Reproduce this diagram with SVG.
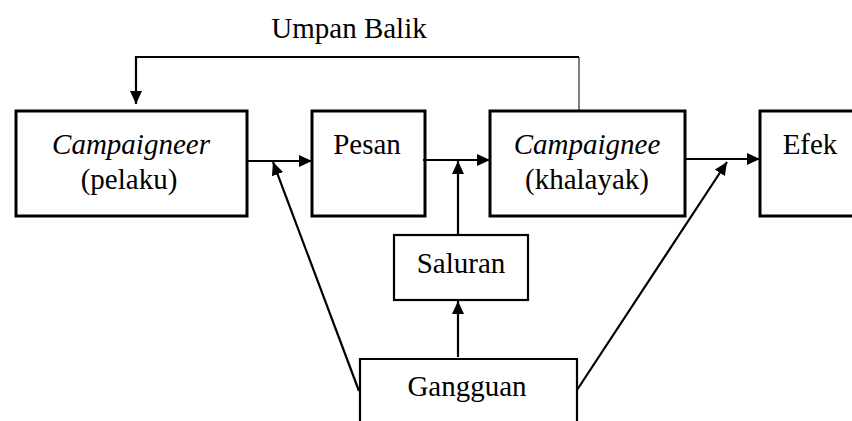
<svg xmlns="http://www.w3.org/2000/svg" width="852" height="421" viewBox="0 0 852 421">
<defs>
<marker id="ah" markerUnits="userSpaceOnUse" markerWidth="13" markerHeight="12" refX="13" refY="6" orient="auto">
<path d="M0,0 L13,6 L0,12 z" fill="#000"/>
</marker>
<style>
.box{fill:#fff;stroke:#000;stroke-width:3}
.box2{fill:#fff;stroke:#000;stroke-width:2.2}
.t{font-family:"Liberation Serif","Times New Roman",serif;font-size:29px;fill:#000;text-anchor:middle}
.i{font-style:italic}
.c{fill:none;stroke:#000;stroke-width:2.2}
</style>
</defs>
<rect width="852" height="421" fill="#fff"/>
<text class="t" x="349" y="38">Umpan Balik</text>
<g id="campaigneer">
<rect class="box" x="16" y="111" width="231" height="105"/>
<text class="t i" x="131" y="154">Campaigneer</text>
<text class="t" x="129" y="189">(pelaku)</text>
</g>
<g id="pesan">
<rect class="box" x="312" y="111" width="113" height="105"/>
<text class="t" x="367" y="154">Pesan</text>
</g>
<g id="campaignee">
<rect class="box" x="490" y="111" width="195" height="105"/>
<text class="t i" x="587" y="154">Campaignee</text>
<text class="t" x="587" y="189">(khalayak)</text>
</g>
<g id="efek">
<rect class="box" x="760" y="111" width="100" height="105"/>
<text class="t" x="810" y="154">Efek</text>
</g>
<g id="saluran">
<rect class="box2" x="394" y="235" width="134" height="65"/>
<text class="t" x="461" y="273">Saluran</text>
</g>
<g id="gangguan">
<path class="box2" d="M360,425 V359 H577 V425"/>
<text class="t" x="467" y="396">Gangguan</text>
</g>
<g id="connectors">
<line x1="579" y1="110" x2="579" y2="57" stroke="#000" stroke-width="1"/>
<path class="c" d="M579,57 H136 V104" stroke-width="3" marker-end="url(#ah)"/>
<line class="c" x1="247" y1="161" x2="312" y2="161" marker-end="url(#ah)"/>
<line class="c" x1="423" y1="160" x2="490" y2="160" marker-end="url(#ah)"/>
<line class="c" x1="685" y1="159" x2="760" y2="159" marker-end="url(#ah)"/>
<line class="c" x1="458" y1="235" x2="458" y2="161" marker-end="url(#ah)"/>
<line class="c" x1="458" y1="357" x2="458" y2="301" marker-end="url(#ah)"/>
<line class="c" x1="359" y1="391" x2="273" y2="162" marker-end="url(#ah)"/>
<line class="c" x1="577" y1="390" x2="727" y2="162" stroke-width="1.6" marker-end="url(#ah)"/>
</g>
</svg>
